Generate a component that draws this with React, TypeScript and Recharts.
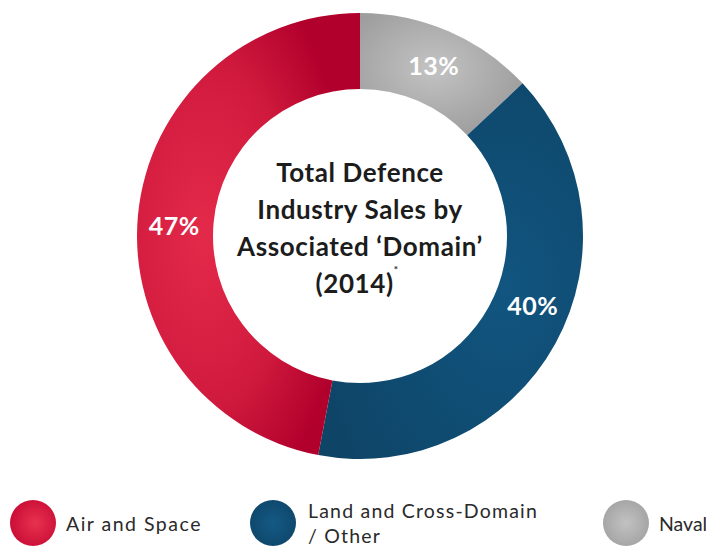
import React from 'react';
import { PieChart, Pie, Cell, Label, Legend } from 'recharts';

// Data (Pie drawn clockwise from 12 o'clock: Naval, Land, Air)
const domains = ['Naval', 'Land and Cross-Domain / Other', 'Air and Space'];
const shares = [13, 40, 47];
const legendOrder = ['Air and Space', 'Land and Cross-Domain / Other', 'Naval'];
const titleLines = ['Total Defence', 'Industry Sales by', 'Associated \u2018Domain\u2019'];
const titleYear = '(2014)';

const data = domains.map((name, i) => ({ name, value: shares[i] }));

const CX = 360;
const CY = 236;

const FILLS: Record<string, string> = {
  'Air and Space': 'url(#grad-air)',
  'Land and Cross-Domain / Other': 'url(#grad-land)',
  Naval: 'url(#grad-naval)',
};

const LEGEND_FILLS: Record<string, string> = {
  'Air and Space': 'radial-gradient(circle at 55% 50%, #e8314f 0%, #c0022f 100%)',
  'Land and Cross-Domain / Other': 'radial-gradient(circle at 50% 50%, #145a85 0%, #0d4163 100%)',
  Naval: 'radial-gradient(circle at 50% 50%, #c2c2c2 0%, #9a9a9a 100%)',
};

// small angular nudges (degrees) so labels sit like the original
const LABEL_NUDGE: Record<string, number> = {
  'Land and Cross-Domain / Other': 7,
  'Air and Space': 2,
};

const FONT = 'Lato, "Open Sans", sans-serif';
const RAD = Math.PI / 180;

const renderLabel = (props: any) => {
  const { cx, cy, midAngle, innerRadius, outerRadius, value, name } = props;
  const angle = midAngle + (LABEL_NUDGE[name] || 0);
  const r = (innerRadius + outerRadius) / 2 + 1;
  const x = cx + r * Math.cos(-angle * RAD);
  const y = cy + r * Math.sin(-angle * RAD);
  return (
    <text
      x={x}
      y={y}
      fill="#ffffff"
      textAnchor="middle"
      dominantBaseline="central"
      fontFamily={FONT}
      fontWeight={700}
      fontSize={25}
      letterSpacing={0.5}
    >
      {`${value}%`}
    </text>
  );
};

const CenterTitle = () => {
  const lineH = 37;
  const top = CY - 64;
  return (
    <text
      textAnchor="middle"
      fontFamily={FONT}
      fontWeight={700}
      fontSize={26}
      letterSpacing={0.6}
      fill="#1c1c1c"
    >
      {titleLines.map((line, i) => (
        <tspan key={line} x={CX} y={top + i * lineH} dominantBaseline="central">
          {line}
        </tspan>
      ))}
      <tspan x={CX - 3} y={top + 3 * lineH} dominantBaseline="central">
        {titleYear}
      </tspan>
      <tspan dy={-10} fontSize={10}>*</tspan>
    </text>
  );
};

const renderLegend = () => (
  <div style={{ position: 'relative', width: 706, height: 50, fontFamily: FONT }}>
    {legendOrder.map((name, i) => {
      const left = [10, 250, 603][i];
      const spacing = [1.5, 1.2, 0][i];
      const isLand = i === 1;
      return (
        <div key={name} style={{ position: 'absolute', left, top: 0, display: 'flex', alignItems: 'center', height: 48 }}>
          <div
            style={{
              width: 46,
              height: 46,
              borderRadius: '50%',
              background: LEGEND_FILLS[name],
              flexShrink: 0,
            }}
          />
          <div
            style={{
              marginLeft: isLand ? 12 : 10,
              fontSize: 19.5,
              lineHeight: '25px',
              color: '#2a2a2a',
              whiteSpace: 'nowrap',
              letterSpacing: spacing,
            }}
          >
            {isLand ? (
              <>
                Land and Cross-Domain
                <br />/ Other
              </>
            ) : (
              name
            )}
          </div>
        </div>
      );
    })}
  </div>
);

export default function App() {
  return (
    <div style={{ position: 'absolute', left: 0, top: 0, width: 706, height: 546, background: '#ffffff' }}>
      <PieChart width={706} height={546} margin={{ top: 0, right: 0, bottom: 0, left: 0 }}>
        <defs>
          <radialGradient id="grad-air" cx="0.3" cy="0.5" r="0.65">
            <stop offset="0%" stopColor="#e42a4b" />
            <stop offset="60%" stopColor="#d01a3d" />
            <stop offset="100%" stopColor="#b1002c" />
          </radialGradient>
          <radialGradient id="grad-land" cx="0.7" cy="0.55" r="0.75">
            <stop offset="0%" stopColor="#115580" />
            <stop offset="100%" stopColor="#0e4466" />
          </radialGradient>
          <radialGradient id="grad-naval" cx="0.45" cy="0.45" r="0.6">
            <stop offset="0%" stopColor="#c3c3c3" />
            <stop offset="100%" stopColor="#9d9d9d" />
          </radialGradient>
        </defs>
        <Pie
          data={data}
          dataKey="value"
          nameKey="name"
          cx={CX}
          cy={CY}
          innerRadius={147}
          outerRadius={223}
          startAngle={90}
          endAngle={-270}
          stroke="none"
          label={renderLabel}
          labelLine={false}
          isAnimationActive={false}
        >
          {data.map((d) => (
            <Cell key={d.name} fill={FILLS[d.name]} />
          ))}
          <Label position="center" content={CenterTitle} />
        </Pie>
        <Legend
          content={renderLegend}
          wrapperStyle={{ position: 'absolute', left: 0, top: 499, width: 706, height: 50 }}
        />
      </PieChart>
    </div>
  );
}
